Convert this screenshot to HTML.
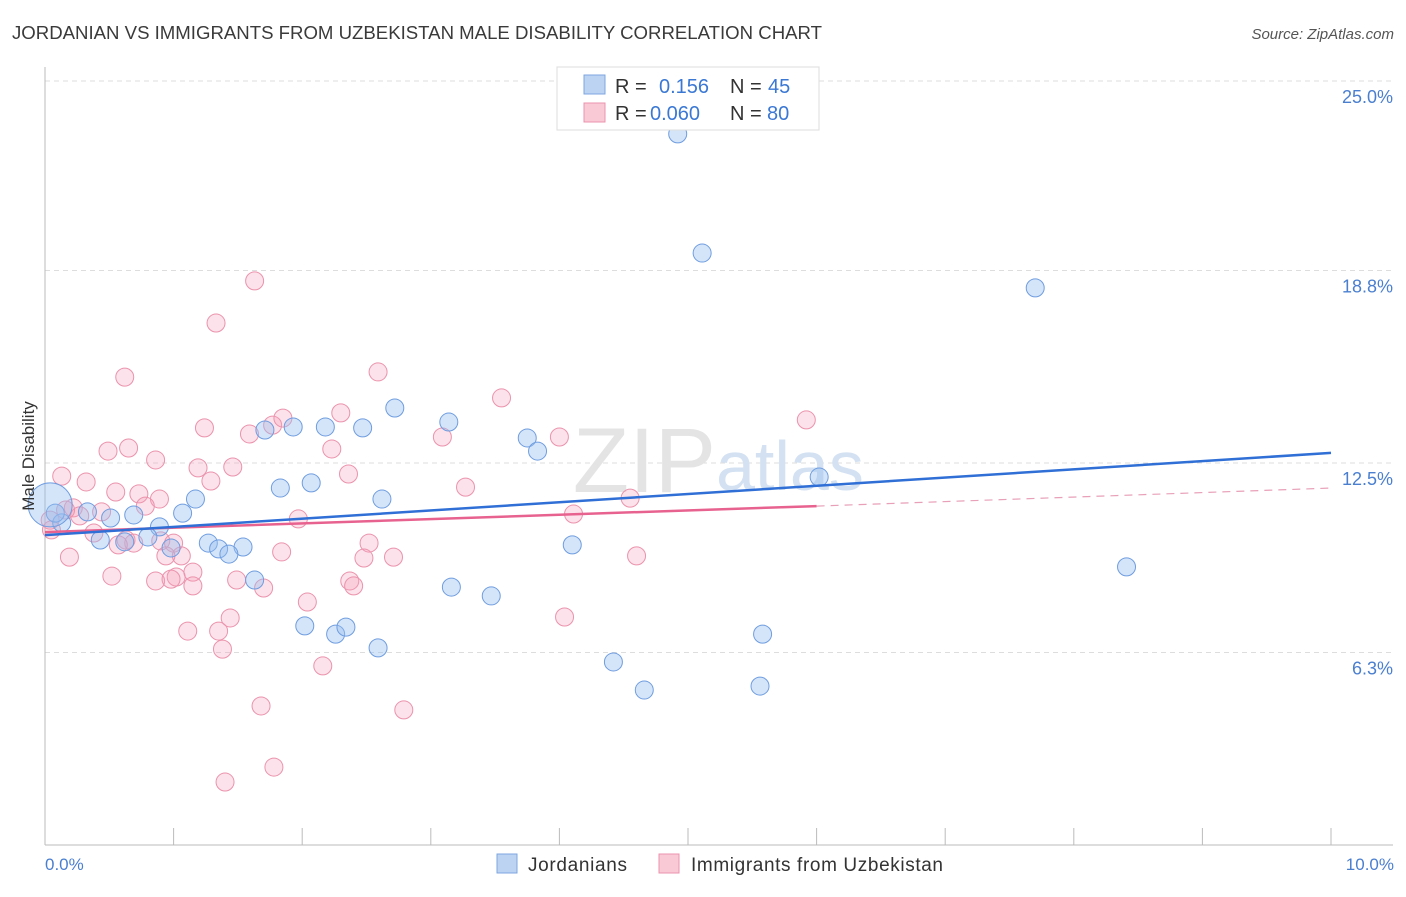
<!DOCTYPE html>
<html><head><meta charset="utf-8"><style>
body{margin:0;background:#fff;font-family:"Liberation Sans",sans-serif;}
svg text{font-family:"Liberation Sans",sans-serif;}
</style></head><body>
<svg id="chart" width="1406" height="892" viewBox="0 0 1406 892" xmlns="http://www.w3.org/2000/svg">
<text x="12" y="39" font-size="18" fill="#3a3a3a" textLength="810" lengthAdjust="spacingAndGlyphs">JORDANIAN VS IMMIGRANTS FROM UZBEKISTAN MALE DISABILITY CORRELATION CHART</text>
<text x="1394" y="39" font-size="15" fill="#555" font-style="italic" text-anchor="end">Source: ZipAtlas.com</text>
<g id="grid"></g>
<text x="716" y="492" font-size="92" fill="#e4e4e4" text-anchor="end" font-family="Liberation Serif">ZIP</text>
<text x="716" y="490" font-size="70" fill="#d3e1f2">atlas</text>
<g id="pts"></g>
<g id="lines"></g>
<text x="34" y="456" font-size="17" fill="#333" text-anchor="middle" transform="rotate(-90 34 456)">Male Disability</text>
<text x="45" y="870" font-size="17" fill="#4a7fd0">0.0%</text>
<text x="1394" y="870" font-size="17" fill="#4a7fd0" text-anchor="end">10.0%</text>
<g>
<rect x="557" y="67" width="262" height="63" fill="#fff" stroke="#ddd"/>
<rect x="584" y="75" width="21" height="19" fill="#bcd3f2" stroke="#7fa6e0"/>
<rect x="584" y="103" width="21" height="19" fill="#f9c9d6" stroke="#eb93ad"/>
<text x="615" y="93" font-size="20" fill="#333">R =</text>
<text x="659" y="93" font-size="20" fill="#3a78d4">0.156</text>
<text x="730" y="93" font-size="20" fill="#333">N =</text>
<text x="768" y="93" font-size="20" fill="#3a78d4">45</text>
<text x="615" y="120" font-size="20" fill="#333">R =</text>
<text x="650" y="120" font-size="20" fill="#3a78d4">0.060</text>
<text x="730" y="120" font-size="20" fill="#333">N =</text>
<text x="767" y="120" font-size="20" fill="#3a78d4">80</text>
</g>
<g>
<rect x="497" y="854" width="20" height="19" fill="#bcd3f2" stroke="#7fa6e0"/>
<text x="528" y="871" font-size="19" fill="#333" textLength="99">Jordanians</text>
<rect x="659" y="854" width="20" height="19" fill="#f9c9d6" stroke="#eb93ad"/>
<text x="691" y="871" font-size="19" fill="#333" textLength="252">Immigrants from Uzbekistan</text>
</g>
</svg>
<script>
const yTicks=[25.0,18.8,12.5,6.3];
const yTickLabels=["25.0%","18.8%","12.5%","6.3%"];
const blueX=[4.92,5.11,7.70,2.72,3.14,1.71,1.93,2.18,2.47,3.75,3.83,6.02,1.83,2.07,2.62,1.17,1.07,0.51,0.69,0.33,0.89,0.80,0.62,0.98,1.27,1.35,1.54,1.43,4.10,1.63,3.16,3.47,8.41,2.02,2.26,2.34,2.59,4.42,5.58,4.66,5.56,0.13,0.43,0.08,0.04];
const blueY=[23.27,19.37,18.23,14.30,13.84,13.58,13.68,13.68,13.65,13.32,12.89,12.04,11.68,11.85,11.32,11.32,10.86,10.70,10.80,10.90,10.41,10.08,9.92,9.72,9.88,9.69,9.75,9.52,9.82,8.67,8.44,8.15,9.10,7.17,6.90,7.13,6.45,5.99,6.90,5.07,5.20,10.54,9.98,10.86,11.13];
const pinkX=[1.63,1.33,0.62,2.59,3.55,1.77,1.85,2.30,5.92,1.24,1.59,3.09,4.00,0.49,0.65,2.23,0.86,0.13,0.32,1.19,1.46,2.36,3.27,1.29,0.55,0.73,0.89,0.78,4.55,0.22,0.44,1.97,4.11,0.04,0.27,0.05,0.38,0.63,0.69,0.90,1.00,2.52,0.57,0.19,1.06,0.94,1.84,2.71,2.48,4.60,0.52,1.15,1.02,0.86,0.98,1.49,1.70,1.15,2.37,2.40,2.04,1.44,4.04,1.11,1.35,1.38,2.16,1.68,2.79,1.40,1.78,0.16];
const pinkY=[18.46,17.08,15.31,15.48,14.63,13.74,13.97,14.14,13.91,13.65,13.45,13.35,13.35,12.89,12.99,12.96,12.60,12.07,11.88,12.34,12.37,12.14,11.71,11.91,11.55,11.49,11.32,11.09,11.35,11.03,10.90,10.67,10.83,10.63,10.77,10.31,10.21,9.98,9.88,9.95,9.88,9.88,9.82,9.42,9.46,9.46,9.59,9.42,9.39,9.46,8.80,8.93,8.77,8.64,8.70,8.67,8.41,8.48,8.64,8.48,7.95,7.43,7.46,7.00,7.00,6.41,5.86,4.55,4.42,2.06,2.55,10.96];
const blueLine=[10.14,12.83];
const pinkLine=[10.24,11.09,11.68];
const pinkSolidEnd=6.0;
const NS="http://www.w3.org/2000/svg";
const X=v=>45+v*128.6, Y=v=>81+(25-v)*30.56;
function mk(t,a,p){const e=document.createElementNS(NS,t);for(const k in a)e.setAttribute(k,a[k]);p.appendChild(e);return e;}
const grid=document.getElementById('grid');
yTicks.forEach((t,i)=>{
 const l=mk('line',{x1:45,x2:1393,y1:Y(t),y2:Y(t),stroke:'#ddd','stroke-dasharray':'5,4'},grid);
 
 
 const tx=mk('text',{x:1393,y:Y(t)+22,'font-size':18,fill:'#4a7fd0','text-anchor':'end'},grid);
 tx.textContent=yTickLabels[i];
 
 
});
const ax=mk('line',{x1:45,x2:45,y1:67,y2:845,stroke:'#bbb'},grid);


const bx=mk('line',{x1:45,x2:1393,y1:845,y2:845,stroke:'#bbb'},grid);


for(let i=1;i<=10;i++){
 const t=mk('line',{x1:X(i),x2:X(i),y1:828,y2:845,stroke:'#bbb'},grid);
 
 
}
const pts=document.getElementById('pts');
pinkX.forEach((x,i)=>{
 const c=mk('circle',{cx:X(x),cy:Y(pinkY[i]),r:9,fill:'rgba(244,160,186,0.3)',stroke:'#eb93ad','stroke-width':1},pts);
 
 
});
blueX.forEach((x,i)=>{
 const r=(i===blueX.length-1)?22:9;
 const c=mk('circle',{cx:X(x),cy:Y(blueY[i]),r:r,fill:'rgba(150,190,240,0.4)',stroke:'#6f9de0','stroke-width':1},pts);
 
 
});
const lines=document.getElementById('lines');
const pl=mk('line',{x1:X(0),y1:Y(pinkLine[0]),x2:X(pinkSolidEnd),y2:Y(pinkLine[1]),stroke:'#e8628f','stroke-width':2.5},lines);


const pd=mk('line',{x1:X(pinkSolidEnd),y1:Y(pinkLine[1]),x2:X(10),y2:Y(pinkLine[2]),stroke:'#e8a0b8','stroke-width':1.2,'stroke-dasharray':'8,6'},lines);


const bl=mk('line',{x1:X(0),y1:Y(blueLine[0]),x2:X(10),y2:Y(blueLine[1]),stroke:'#2f6fd6','stroke-width':2.5},lines);


</script>
</body></html>
